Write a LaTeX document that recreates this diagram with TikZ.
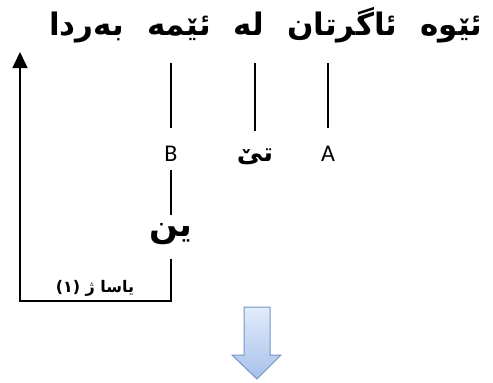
\documentclass[tikz,border=0pt]{standalone}
\usepackage{fontspec}
\setsansfont{Carlito}
\newfontfamily\arabicfont[Script=Arabic]{DejaVu Sans}
\TeXXeTstate=1
\usetikzlibrary{arrows.meta}
\definecolor{arrowtop}{HTML}{E2ECFC}
\definecolor{arrowbot}{HTML}{A6C0EA}
\definecolor{arrowrim}{HTML}{7894C4}
\newcommand\widewords{\spaceskip=23pt\relax}
\tikzset{every picture/.style={line width=1.5pt},
  sentence/.style={font={\arabicfont\bfseries\fontsize{31}{36}\selectfont\widewords}},
  kurd/.style={font=\arabicfont\bfseries\fontsize{34}{40}\selectfont},
  kurdmid/.style={font=\arabicfont\bfseries\fontsize{26}{30}\selectfont},
  kurdsmall/.style={font=\arabicfont\bfseries\fontsize{16}{20}\selectfont},
  lab/.style={font=\sffamily\fontsize{24}{28}\selectfont},
  link/.style={shorten <=14pt,shorten >=16pt},
  downarrow/.style={draw=arrowrim,line width=1pt,top color=arrowtop,bottom color=arrowbot}}

\begin{document}
\begin{tikzpicture}[x=1pt,y=-1pt]
\useasboundingbox (0,0) rectangle (493,383);
% the sentence
\node[sentence] (phrase) at (266,25.5) {\beginR ئێوە ئاگرتان لە ئێمە بەردا\endR};
% pieces below it
\node[lab] (B) at (171,154) {B};
\node[kurdmid] (te) at (255,157) {\beginR تێ\endR};
\node[lab] (A) at (328,154) {A};
\node[kurd] (yin) at (171,234) {\beginR ین\endR};
\node[kurdsmall] (yasa) at (95,288) {\beginR یاسا ژ \beginL(١)\endL\endR};
\foreach \n in {B,te,A}{
\draw[link] (\n) -- (\n |- phrase.south);
}
\draw[shorten <=4pt,shorten >=4pt] (B) -- (yin);
% back to the sentence
\coordinate (turn) at (20,301);
\coordinate (back) at (20,52);
\draw[-{Triangle[width=15pt,length=16pt]},shorten <=10pt] (yin) |- (turn) -- (back);
% block arrow
\draw[downarrow] (244,307) -- (270,307) -- (270,355) -- (281,355) -- (257,379)
  -- (232,355) -- (244,355) -- cycle;
\end{tikzpicture}
\end{document}
